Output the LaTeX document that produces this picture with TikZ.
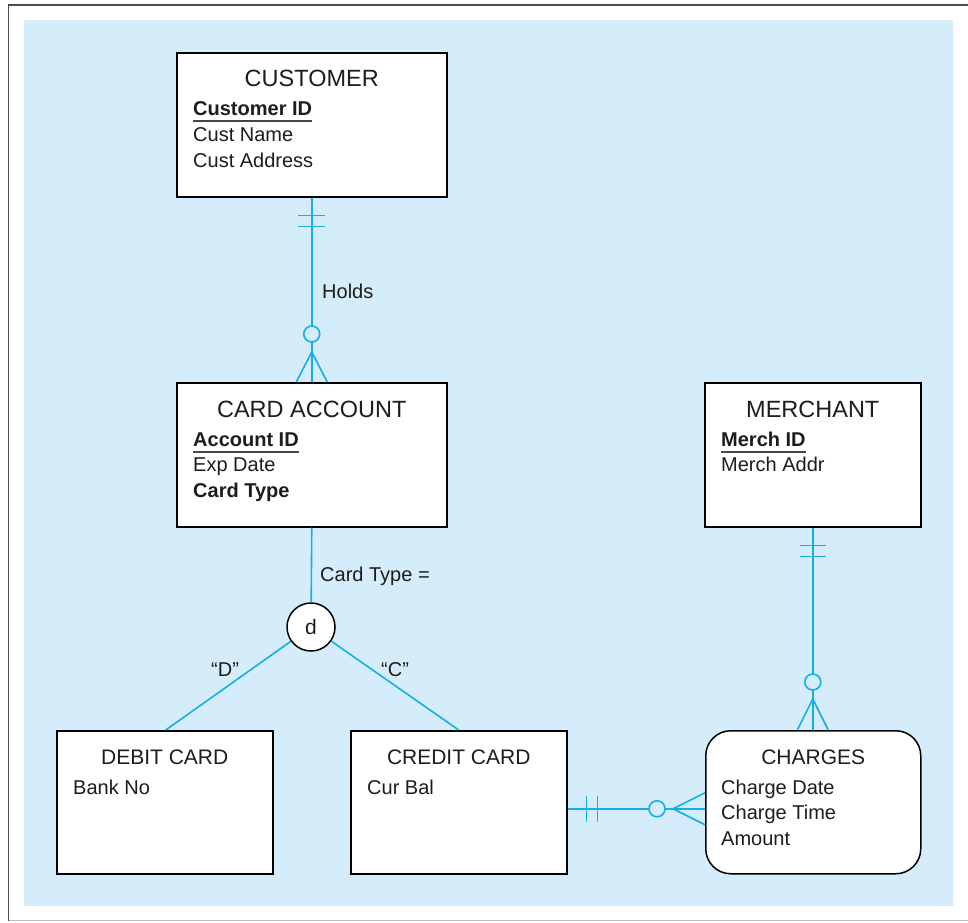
\documentclass[tikz,border=0pt]{standalone}
\usepackage{fontspec}
\setmainfont{Liberation Sans}
\usetikzlibrary{calc}
\definecolor{bg}{RGB}{213,236,250}
\definecolor{ln}{RGB}{20,174,232}
\definecolor{ink}{RGB}{30,28,28}
\definecolor{ulc}{RGB}{70,70,70}
\begin{document}
\begin{tikzpicture}[x=1pt,y=-1pt,
  entity/.style={draw=black, line width=1.5pt, fill=white, minimum height=144pt, inner sep=0pt, anchor=north west},
  ttl/.style={anchor=base, inner sep=0pt, text=ink, font=\fontsize{23.5}{28}\selectfont},
  sttl/.style={anchor=base, inner sep=0pt, text=ink, font=\fontsize{21}{25}\selectfont},
  attr/.style={anchor=base west, inner sep=0pt, text=ink, font=\fontsize{20}{24}\selectfont},
  rel/.style={draw=ln, line width=1.6pt},
  ul/.style={draw=ulc, line width=1.4pt}
]
\useasboundingbox (0,0) rectangle (968,922);
% frame and background
\fill[bg] (24,20) rectangle (953,906);
\draw[draw=black!70, line width=1.5pt] (968,5) -- (8.5,5) -- (8.5,920.5);
\draw[draw=black!25, line width=1.5pt] (8.5,920.5) -- (968,920.5);

% entities
\node[entity, minimum width=270pt] (cust) at (176,52) {};
\node[entity, minimum width=270pt] (acct) at (176,382) {};
\node[entity, minimum width=216pt] (merch) at (704,382) {};
\node[entity, minimum width=216pt, minimum height=143pt] (debit) at (56,730) {};
\node[entity, minimum width=216pt, minimum height=143pt] (credit) at (350,730) {};
\node[entity, minimum width=215pt, minimum height=143pt, rounded corners=25pt] (charges) at (705,730) {};

% CUSTOMER
\node[ttl] at ($(cust.north)+(0,34)$) {CUSTOMER};
\node[attr] (cid) at ($(cust.north west)+(17,63)$) {\textbf{Customer ID}};
\draw[ul] ($(cid.base west)+(0,6)$) -- ($(cid.base east)+(0,6)$);
\node[attr] at ($(cust.north west)+(17,89)$) {Cust Name};
\node[attr] at ($(cust.north west)+(17,115)$) {Cust Address};

% CARD ACCOUNT
\node[ttl] at ($(acct.north)+(0,35)$) {CARD ACCOUNT};
\node[attr] (aid) at ($(acct.north west)+(17,64)$) {\textbf{Account ID}};
\draw[ul] ($(aid.base west)+(0,6)$) -- ($(aid.base east)+(0,6)$);
\node[attr] at ($(acct.north west)+(17,89)$) {Exp Date};
\node[attr] at ($(acct.north west)+(17,115)$) {\textbf{Card Type}};

% MERCHANT
\node[ttl] at ($(merch.north)+(0,35)$) {MERCHANT};
\node[attr] (mid) at ($(merch.north west)+(17,64)$) {\textbf{Merch ID}};
\draw[ul] ($(mid.base west)+(0,6)$) -- ($(mid.base east)+(0,6)$);
\node[attr] at ($(merch.north west)+(17,89)$) {Merch Addr};

% DEBIT CARD
\node[sttl] at ($(debit.north)+(0,34)$) {DEBIT CARD};
\node[attr] at ($(debit.north west)+(17,64)$) {Bank No};

% CREDIT CARD
\node[sttl] at ($(credit.north)+(0,34)$) {CREDIT CARD};
\node[attr] at ($(credit.north west)+(17,64)$) {Cur Bal};

% CHARGES
\node[sttl] at ($(charges.north)+(0,34)$) {CHARGES};
\node[attr] at ($(charges.north west)+(16,64)$) {Charge Date};
\node[attr] at ($(charges.north west)+(16,89)$) {Charge Time};
\node[attr] at ($(charges.north west)+(16,115)$) {Amount};

% disjoint circle
\node[circle, draw=black, line width=1.5pt, fill=white, minimum size=48pt, inner sep=0pt,
      text=ink, font=\fontsize{21}{25}\selectfont] (d) at (311,627) {d};

% Holds: CUSTOMER -- CARD ACCOUNT
\draw[rel] (cust.south) -- (acct.north);
\draw[rel] ($(cust.south)+(-13.5,18)$) -- ++(27,0);
\draw[rel] ($(cust.south)+(-13.5,29)$) -- ++(27,0);
\draw[rel, fill=bg] ($(acct.north)+(0,-48)$) circle[radius=8];
\draw[rel] ($(acct.north)+(-15.5,0)$) -- ($(acct.north)+(0,-30)$) -- ($(acct.north)+(15.5,0)$);
\node[attr] (holds) at (322,298) {Holds};

% MERCHANT -- CHARGES
\draw[rel] (merch.south) -- ($(charges.north)+(-0.5,0)$);
\draw[rel] ($(merch.south)+(-13,18)$) -- ++(26,0);
\draw[rel] ($(merch.south)+(-13,29)$) -- ++(26,0);
\draw[rel, fill=bg] ($(charges.north)+(-0.5,-48)$) circle[radius=8];
\draw[rel] ($(charges.north)+(-16,0)$) -- ($(charges.north)+(-0.5,-31)$) -- ($(charges.north)+(15,0)$);

% CREDIT CARD -- CHARGES
\coordinate (ccp) at ($(credit.east)+(0,6.5)$);
\coordinate (chp) at ($(charges.west)+(0,6.5)$);
\draw[rel] (ccp) -- (chp);
\draw[rel] ($(ccp)+(19,-13)$) -- ++(0,26);
\draw[rel] ($(ccp)+(30,-13)$) -- ++(0,26);
\draw[rel, fill=bg] ($(chp)+(-48,0)$) circle[radius=8];
\draw[rel] ($(chp)+(0,-16)$) -- ($(chp)+(-32,0)$) -- ($(chp)+(0,16)$);

% specialization
\draw[rel] (acct.south) -- (d);
\draw[rel] (d) -- ($(debit.north)+(1,0)$);
\draw[rel] (d) -- (credit.north);
\node[attr] (ctype) at (320,581) {Card Type =};
\node[attr] (lD) at (211,676) {“D”};
\node[attr] (lC) at (381,676) {“C”};
\end{tikzpicture}
\end{document}
